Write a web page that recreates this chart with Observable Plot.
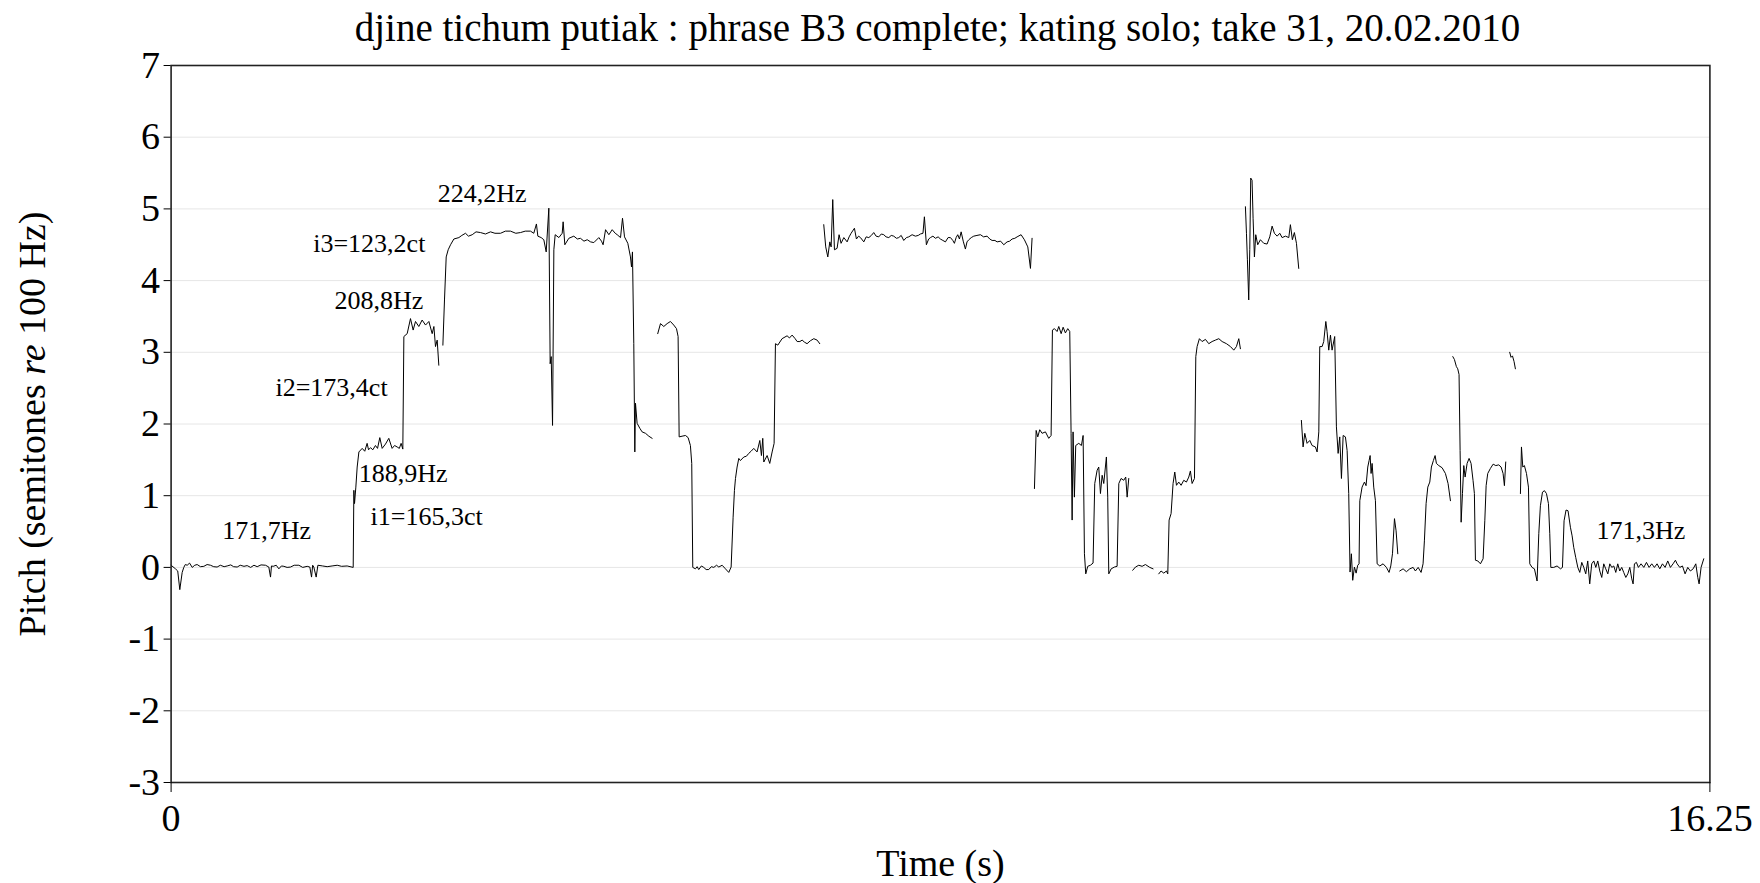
<!DOCTYPE html>
<html>
<head>
<meta charset="utf-8">
<script src="https://cdn.jsdelivr.net/npm/d3@7"></script>
<script src="https://cdn.jsdelivr.net/npm/@observablehq/plot@0.6"></script>
<style>
  html, body { margin: 0; padding: 0; background: #fff; }
  #chart svg { display: block; }
</style>
</head>
<body>
<div id="chart"></div>
<script>
// ---------- DATA (time in s, pitch in semitones re 100 Hz) ----------
const titleText = "djine tichum putiak : phrase B3 complete; kating solo; take 31, 20.02.2010";
const xLabelText = "Time (s)";
const yLabelText = "Pitch (semitones re 100 Hz)";
const xTicks = [0, 16.25];
const xTickLabels = ["0", "16.25"];
const yTicks = [-3, -2, -1, 0, 1, 2, 3, 4, 5, 6, 7];

const segA = [[0.00,0.03],[0.046,-0.02],[0.070,-0.05],[0.092,-0.31],[0.117,-0.07],[0.134,0.00],[0.150,0.04],[0.170,0.03],[0.195,0.06],[0.223,0.00],[0.250,0.03],[0.275,0.04],[0.31,0.01],[0.346,0.015],[0.38,0.04],[0.416,0.03],[0.45,0.01],[0.486,0.005],[0.52,0.03],[0.56,0.01],[0.592,0.02],[0.63,0.035],[0.66,0.01],[0.698,0.005],[0.73,0.03],[0.77,0.015],[0.803,0.025],[0.84,0.0],[0.875,0.03],[0.909,0.01],[0.95,0.035],[0.997,0.03],[1.032,0.005],[1.050,-0.135],[1.060,0.02],[1.078,0.015],[1.11,0.03],[1.138,-0.02],[1.165,0.02],[1.191,0.015],[1.225,0.0],[1.261,0.005],[1.30,0.03],[1.349,0.03],[1.39,0.0],[1.437,0.015],[1.465,0.005],[1.483,-0.135],[1.495,0.03],[1.507,0.005],[1.532,-0.135],[1.550,0.03],[1.60,0.02],[1.648,0.01],[1.70,0.02],[1.754,0.03],[1.80,0.015],[1.859,0.02],[1.923,0.00],[1.930,1.075],[1.937,0.89],[1.951,1.12],[1.965,1.40],[1.983,1.61],[2.018,1.66],[2.045,1.62],[2.070,1.73],[2.085,1.64],[2.106,1.67],[2.130,1.64],[2.158,1.70],[2.180,1.66],[2.204,1.81],[2.229,1.66],[2.264,1.72],[2.299,1.80],[2.334,1.66],[2.360,1.70],[2.387,1.68],[2.410,1.66],[2.429,1.73],[2.447,1.65],[2.458,3.22],[2.493,3.26],[2.528,3.47],[2.556,3.31],[2.581,3.43],[2.616,3.36],[2.651,3.45],[2.687,3.38],[2.722,3.43],[2.757,3.26],[2.775,3.36],[2.792,3.08],[2.810,3.17],[2.827,2.82]];

const segC = [[2.870,3.10],[2.887,3.73],[2.905,4.33],[2.926,4.43],[2.951,4.50],[2.986,4.58],[3.039,4.60],[3.070,4.63],[3.109,4.66],[3.140,4.62],[3.180,4.64],[3.220,4.68],[3.267,4.67],[3.320,4.65],[3.373,4.68],[3.420,4.66],[3.479,4.66],[3.530,4.69],[3.584,4.69],[3.640,4.66],[3.690,4.67],[3.740,4.69],[3.795,4.69],[3.830,4.66],[3.858,4.79],[3.873,4.62],[3.908,4.60],[3.936,4.57],[3.961,4.40],[3.989,5.01],[4.003,2.84],[4.014,2.94],[4.028,1.98],[4.042,4.43],[4.056,4.64],[4.095,4.60],[4.130,4.66],[4.140,4.82],[4.158,4.50],[4.200,4.59],[4.253,4.62],[4.290,4.58],[4.323,4.59],[4.360,4.55],[4.394,4.57],[4.430,4.54],[4.464,4.53],[4.517,4.60],[4.545,4.55],[4.562,4.50],[4.588,4.71],[4.623,4.64],[4.658,4.71],[4.690,4.66],[4.711,4.64],[4.746,4.60],[4.767,4.87],[4.788,4.61],[4.823,4.52],[4.851,4.33],[4.862,4.19],[4.872,4.40],[4.886,3.12],[4.897,1.61],[4.904,2.29],[4.921,2.01],[4.950,1.94],[4.974,1.89],[5.010,1.87],[5.045,1.83],[5.080,1.80]];

const segD = [[5.139,3.26],[5.168,3.40],[5.203,3.36],[5.238,3.40],[5.273,3.43],[5.308,3.38],[5.337,3.33],[5.354,3.22],[5.365,1.82],[5.396,1.83],[5.432,1.84],[5.460,1.81],[5.484,1.70],[5.498,1.45],[5.509,0.00],[5.537,-0.02],[5.555,0.01],[5.572,-0.03],[5.600,0.02],[5.625,0.00],[5.650,-0.03],[5.678,-0.03],[5.705,0.01],[5.731,0.00],[5.760,0.03],[5.784,0.005],[5.819,0.03],[5.854,-0.02],[5.889,-0.07],[5.914,0.005],[5.935,0.70],[5.949,1.075],[5.960,1.24],[5.977,1.40],[5.995,1.52],[6.012,1.49],[6.048,1.54],[6.075,1.55],[6.100,1.59],[6.125,1.62],[6.153,1.66],[6.188,1.61],[6.217,1.77],[6.234,1.56],[6.248,1.80],[6.259,1.47],[6.294,1.56],[6.322,1.45],[6.347,1.61],[6.368,1.73],[6.382,3.12],[6.407,3.10],[6.452,3.19],[6.505,3.23],[6.530,3.20],[6.558,3.24],[6.590,3.19],[6.611,3.15],[6.640,3.15],[6.664,3.17],[6.690,3.14],[6.716,3.12],[6.750,3.16],[6.787,3.19],[6.822,3.17],[6.850,3.12]];

const segE = [[6.892,4.78],[6.913,4.47],[6.935,4.33],[6.956,4.54],[6.970,4.47],[6.987,5.13],[7.005,4.43],[7.033,4.45],[7.054,4.64],[7.075,4.52],[7.104,4.60],[7.139,4.54],[7.160,4.61],[7.181,4.66],[7.216,4.73],[7.237,4.58],[7.260,4.62],[7.280,4.60],[7.315,4.54],[7.340,4.61],[7.368,4.60],[7.395,4.63],[7.420,4.67],[7.445,4.62],[7.473,4.61],[7.500,4.65],[7.526,4.64],[7.550,4.61],[7.579,4.60],[7.605,4.63],[7.631,4.62],[7.660,4.59],[7.684,4.60],[7.710,4.63],[7.737,4.56],[7.765,4.60],[7.790,4.61],[7.825,4.64],[7.860,4.62],[7.890,4.63],[7.913,4.65],[7.940,4.66],[7.955,4.89],[7.976,4.50],[8.000,4.58],[8.019,4.60],[8.045,4.62],[8.072,4.59],[8.100,4.61],[8.124,4.58],[8.150,4.56],[8.177,4.54],[8.205,4.60],[8.230,4.60],[8.255,4.56],[8.272,4.52],[8.290,4.60],[8.307,4.64],[8.325,4.58],[8.343,4.68],[8.365,4.55],[8.388,4.44],[8.405,4.54],[8.424,4.57],[8.450,4.60],[8.476,4.62],[8.510,4.63],[8.547,4.64],[8.580,4.61],[8.617,4.62],[8.645,4.58],[8.670,4.56],[8.700,4.56],[8.723,4.54],[8.760,4.55],[8.793,4.50],[8.828,4.54],[8.855,4.55],[8.881,4.58],[8.910,4.59],[8.934,4.61],[8.976,4.64],[9.011,4.57],[9.047,4.47],[9.075,4.17],[9.092,4.59]];

const segF = [[9.117,1.10],[9.135,1.91],[9.152,1.82],[9.173,1.92],[9.198,1.87],[9.233,1.89],[9.268,1.80],[9.293,1.84],[9.307,3.31],[9.328,3.33],[9.356,3.29],[9.374,3.36],[9.399,3.26],[9.420,3.35],[9.444,3.27],[9.469,3.33],[9.490,3.29],[9.504,1.87],[9.515,0.66],[9.525,1.89],[9.539,0.98],[9.553,1.70],[9.585,1.73],[9.613,1.70],[9.631,1.84],[9.645,0.19],[9.659,-0.09],[9.680,0.015],[9.708,0.03],[9.736,0.06],[9.754,1.17],[9.779,1.355],[9.796,1.40],[9.814,1.03],[9.832,1.285],[9.849,1.17],[9.877,1.54],[9.891,0.98],[9.902,-0.09],[9.927,-0.02],[9.962,0.005],[9.990,0.015],[10.008,1.17],[10.032,1.24],[10.060,1.215],[10.081,1.26],[10.096,0.98],[10.113,1.24]];

const segG = [[10.155,-0.04],[10.184,0.005],[10.219,0.03],[10.254,0.015],[10.289,0.04],[10.335,0.00],[10.370,-0.02]];

const segH = [[10.430,-0.09],[10.454,-0.05],[10.483,-0.08],[10.511,-0.05],[10.525,-0.09],[10.539,0.66],[10.560,0.75],[10.581,1.17],[10.599,1.33],[10.617,1.145],[10.641,1.19],[10.666,1.145],[10.694,1.215],[10.722,1.19],[10.747,1.26],[10.764,1.345],[10.782,1.17],[10.807,1.24],[10.821,2.94],[10.835,3.08],[10.859,3.19],[10.887,3.15],[10.923,3.18],[10.958,3.12],[10.993,3.15],[11.028,3.17],[11.064,3.19],[11.099,3.15],[11.145,3.12],[11.187,3.08],[11.222,3.03],[11.250,3.08],[11.275,3.19],[11.292,3.05]];

const segI = [[11.345,5.03],[11.356,4.66],[11.366,4.29],[11.380,3.73],[11.391,4.43],[11.401,5.43],[11.415,5.40],[11.426,4.87],[11.440,4.33],[11.454,4.64],[11.475,4.50],[11.503,4.57],[11.539,4.52],[11.574,4.51],[11.602,4.61],[11.627,4.76],[11.651,4.66],[11.680,4.62],[11.708,4.66],[11.732,4.60],[11.768,4.62],[11.803,4.60],[11.820,4.78],[11.841,4.57],[11.862,4.67],[11.884,4.52],[11.908,4.17]];

const segJ = [[11.936,2.05],[11.954,1.68],[11.972,1.87],[11.996,1.73],[12.025,1.77],[12.049,1.70],[12.084,1.68],[12.102,1.61],[12.120,1.89],[12.130,3.08],[12.155,3.08],[12.172,3.15],[12.194,3.43],[12.207,3.29],[12.225,3.03],[12.243,3.24],[12.260,3.03],[12.288,3.22],[12.306,1.96],[12.324,1.59],[12.341,1.82],[12.359,1.24],[12.377,1.84],[12.401,1.82],[12.419,1.63],[12.436,1.03],[12.450,-0.065],[12.464,0.19],[12.478,-0.18],[12.496,0.005],[12.514,-0.08],[12.531,0.03],[12.545,0.05],[12.553,0.93],[12.577,1.12],[12.602,1.19],[12.619,1.14],[12.637,1.40],[12.651,1.49],[12.662,1.56],[12.672,1.31],[12.683,1.45],[12.700,1.12],[12.718,0.93],[12.736,0.05],[12.764,0.02],[12.799,0.05],[12.834,0.00],[12.862,-0.07],[12.880,0.02],[12.898,0.19],[12.919,0.68],[12.936,0.51],[12.954,0.19]];

const segK = [[12.975,-0.05],[13.010,-0.02],[13.045,-0.06],[13.081,-0.02],[13.116,0.00],[13.140,-0.05],[13.169,0.00],[13.200,-0.07],[13.221,0.05],[13.235,0.37],[13.253,0.89],[13.271,1.12],[13.292,1.19],[13.309,1.40],[13.330,1.49],[13.348,1.56],[13.362,1.45],[13.387,1.42],[13.422,1.39],[13.457,1.31],[13.485,1.17],[13.510,0.93]];

const segL = [[13.535,2.94],[13.552,2.90],[13.573,2.80],[13.587,2.77],[13.601,2.69],[13.612,1.63],[13.623,0.63],[13.637,1.03],[13.651,1.42],[13.665,1.26],[13.686,1.45],[13.707,1.52],[13.728,1.45],[13.749,1.21],[13.763,1.03],[13.774,0.10],[13.799,0.09],[13.827,0.05],[13.855,0.12],[13.873,0.65],[13.887,1.14],[13.904,1.31],[13.932,1.38],[13.961,1.44],[13.989,1.42],[14.020,1.43],[14.045,1.40],[14.066,1.31],[14.080,1.14],[14.094,1.47]];

const segM = [[14.136,3.00],[14.150,2.93],[14.165,2.95],[14.182,2.87],[14.196,2.77]];

const segN = [[14.249,1.03],[14.260,1.68],[14.274,1.40],[14.291,1.42],[14.313,1.31],[14.334,1.12],[14.348,0.05],[14.372,0.00],[14.397,-0.02],[14.425,-0.19],[14.443,0.47],[14.460,0.86],[14.482,1.05],[14.503,1.07],[14.524,1.03],[14.545,0.89],[14.559,0.47],[14.570,0.00],[14.601,0.00],[14.636,0.02],[14.672,-0.02],[14.693,0.00],[14.710,0.65],[14.731,0.80],[14.752,0.79],[14.777,0.56],[14.795,0.44],[14.812,0.28],[14.833,0.14],[14.855,0.00],[14.876,-0.07],[14.897,0.07],[14.918,0.00],[14.939,-0.09],[14.960,0.09],[14.981,-0.23],[15.002,0.05],[15.024,0.09],[15.045,0.00],[15.066,0.09],[15.087,-0.05],[15.108,-0.14],[15.129,0.05],[15.150,-0.02],[15.172,-0.09],[15.193,0.05],[15.214,0.00],[15.235,0.02],[15.256,-0.07],[15.277,0.05],[15.298,-0.05],[15.319,0.00],[15.340,-0.07],[15.362,-0.14],[15.383,-0.09],[15.404,0.00],[15.425,-0.16],[15.439,-0.23],[15.453,0.05],[15.474,0.07],[15.495,0.00],[15.523,0.05],[15.552,0.00],[15.580,0.07],[15.608,0.00],[15.636,0.05],[15.664,0.00],[15.692,0.05],[15.721,-0.02],[15.749,0.05],[15.777,0.00],[15.805,0.09],[15.833,0.00],[15.861,0.05],[15.886,0.10],[15.904,0.05],[15.932,0.00],[15.960,0.02],[15.988,-0.09],[16.016,0.00],[16.044,-0.05],[16.073,-0.02],[16.101,0.05],[16.122,-0.14],[16.136,-0.23],[16.157,0.00],[16.185,0.12]];

// annotation labels (text, time, pitch)
const noteTexts = ["171,7Hz", "188,9Hz", "i1=165,3ct", "i2=173,4ct", "208,8Hz", "i3=123,2ct", "224,2Hz", "171,3Hz"];
const noteTimes = [0.540, 1.982, 2.106, 1.102, 1.725, 1.501, 2.816, 15.052];
const notePitch = [0.513, 1.312, 0.713, 2.512, 3.721, 4.510, 5.208, 0.513];

// ---------- BUILD ----------
const segments = [segA, segC, segD, segE, segF, segG, segH, segI, segJ, segK, segL, segM, segN];
const contour = segments.flatMap((s, i) => s.map(([t, v]) => ({t, v, seg: i})));
const notes = noteTexts.map((text, i) => ({text, t: noteTimes[i], v: notePitch[i]}));

const serif = "'Liberation Serif', 'Times New Roman', Times, serif";

const chart = Plot.plot({
  width: 1760,
  height: 883,
  marginLeft: 170.6,
  marginRight: 50.6,
  marginTop: 65,
  marginBottom: 101,
  style: {fontFamily: serif, fontSize: "38px", background: "#fff", color: "#000"},
  x: {domain: [0, 16.25], label: null},
  y: {domain: [-3, 7], label: null},
  marks: [
    Plot.gridY(yTicks, {stroke: "#e6e6e6", strokeOpacity: 1, strokeWidth: 1}),
    Plot.line(contour, {x: "t", y: "v", z: "seg", stroke: "#000", strokeWidth: 1, curve: "linear"}),
    Plot.frame({stroke: "#222", strokeWidth: 1.6}),
    Plot.axisY({ticks: yTicks, tickSize: 7, tickPadding: 4, fontSize: 38, label: null, tickFormat: d => String(d), stroke: "#000"}),
    Plot.axisX({ticks: xTicks, tickSize: 10, tickPadding: 12, fontSize: 38, label: null, tickFormat: (d) => xTickLabels[xTicks.indexOf(d)], stroke: "#000"}),
    Plot.text(notes, {x: "t", y: "v", text: "text", textAnchor: "start", lineAnchor: "middle", fontSize: 26, fill: "#000"}),
    Plot.text([titleText], {frameAnchor: "top", text: d => d, textAnchor: "middle", lineAnchor: "middle", dy: -36.5, dx: -3, fontSize: 39, fill: "#000"}),
    Plot.text([xLabelText], {frameAnchor: "bottom", text: d => d, textAnchor: "middle", lineAnchor: "middle", dy: 81.8, fontSize: 38, fill: "#000"}),
    Plot.text([yLabelText], {frameAnchor: "left", text: d => d, textAnchor: "middle", lineAnchor: "middle", dx: -137.8, rotate: -90, fontSize: 38, fill: "#000"})
  ]
});

// italicise "re" in the y-axis label
d3.select(chart).selectAll("text").filter(function () { return this.textContent === yLabelText; })
  .each(function () {
    const el = d3.select(this);
    el.text(null);
    el.append("tspan").text("Pitch (semitones ");
    el.append("tspan").attr("font-style", "italic").text("re");
    el.append("tspan").text(" 100 Hz)");
  });

document.getElementById("chart").appendChild(chart);
</script>
</body>
</html>
